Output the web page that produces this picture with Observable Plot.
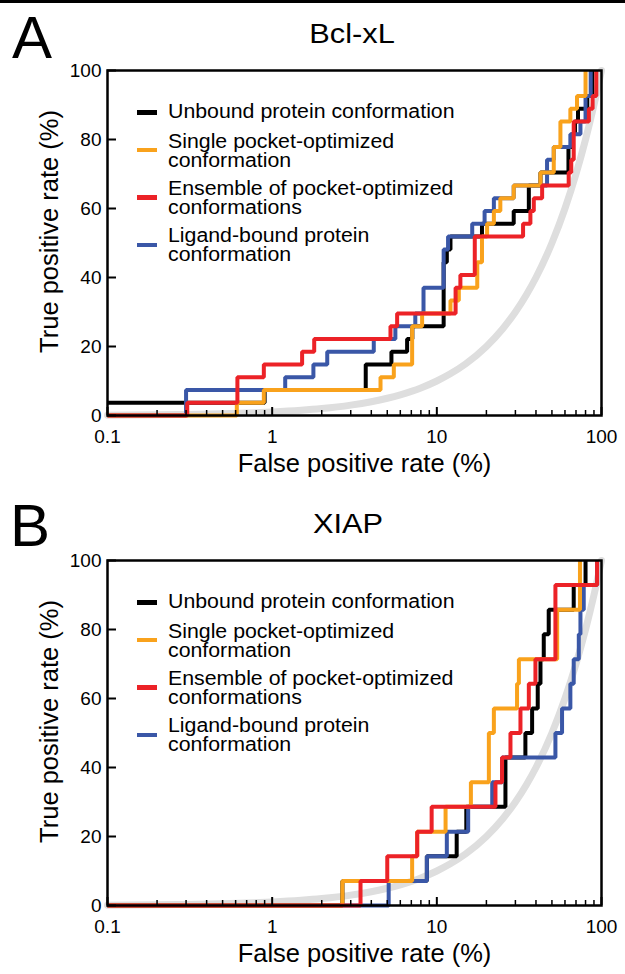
<!DOCTYPE html>
<html>
<head>
<meta charset="utf-8">
<script src="https://cdn.jsdelivr.net/npm/d3@7"></script>
<script src="https://cdn.jsdelivr.net/npm/@observablehq/plot@0.6"></script>
<style>
  body { margin: 0; background: #fff; }
  #page { position: relative; width: 625px; height: 974px; overflow: hidden;
          font-family: "Liberation Sans", Arial, Helvetica, sans-serif; color: #000; background: #fff; }
  #topbar { position: absolute; left: 0; top: 0; width: 625px; height: 3px; background: #000; }
  .panel { position: absolute; left: 0; width: 625px; }
  .panel svg { display: block; }
  .letter { position: absolute; font-size: 60px; line-height: 60px; }
  .title { position: absolute; width: 300px; text-align: center; font-size: 28.5px; line-height: 28.5px;
           transform: scaleX(1.08); transform-origin: center; white-space: nowrap; }
  .sw { position: absolute; left: 137px; width: 20px; height: 4.5px; }
  .lt { position: absolute; left: 168px; font-size: 20px; line-height: 18px; height: 18px; white-space: nowrap;
        transform: scaleX(1.065); transform-origin: left center; }
</style>
</head>
<body>
<div id="page"><div id="topbar"></div></div>
<script>
// ---------- categories / labels ----------
const panelLetters = ["A", "B"];
const panelTitles = ["Bcl-xL", "XIAP"];
const seriesNames = [
  ["Unbound protein conformation"],
  ["Single pocket-optimized", "conformation"],
  ["Ensemble of pocket-optimized", "conformations"],
  ["Ligand-bound protein", "conformation"]
];
const seriesColors = ["#000000", "#f9a21c", "#ec2227", "#3a57a7"];
const xTitle = "False positive rate (%)";
const yTitle = "True positive rate (%)";
const xMajorTicks = [0.1, 1, 10, 100];
const xMinorTicks = [0.2, 0.3, 0.4, 0.5, 0.6, 0.7, 0.8, 0.9, 2, 3, 4, 5, 6, 7, 8, 9, 20, 30, 40, 50, 60, 70, 80, 90];
const yTicks = [0, 20, 40, 60, 80, 100];

// ---------- random-selection reference curve ----------
const randomFPR = [0.1, 0.2, 0.3, 0.5, 0.7, 1, 1.5, 2, 3, 4, 5, 6, 7, 8, 10, 12, 15, 20, 25, 30, 35, 40, 50, 60, 70, 80, 90, 100];
const randomTPR = [0.1, 0.2, 0.3, 0.5, 0.7, 1, 1.5, 2, 3, 4, 5, 6, 7, 8, 10, 12, 15, 20, 25, 30, 35, 40, 50, 60, 70, 80, 90, 100];

// ---------- Panel A: Bcl-xL (step points: at FPR the curve rises to TPR) ----------
const bclUnboundFPR = [0.1, 0.9, 3.7, 5.3, 6.6, 7.1, 11.0, 11.5, 12.1, 18.8, 29.3, 36.2, 42.6, 63, 66, 69, 72, 82, 88];
const bclUnboundTPR = [3.7, 7.4, 14.8, 18.5, 22.2, 25.9, 44.4, 48.1, 51.9, 55.6, 59.3, 66.7, 70.4, 77.8, 81.5, 85.2, 88.9, 92.6, 100];

const bclSingleFPR = [0.1, 0.61, 0.89, 4.55, 5.48, 7.08, 8.14, 12.1, 13.6, 17.6, 18.8, 20.2, 22.2, 24.3, 29.3, 42.6, 51.3, 56.3, 64.7, 71, 80];
const bclSingleTPR = [0, 3.7, 7.4, 11.1, 14.8, 25.9, 29.6, 33.3, 37.0, 44.4, 51.9, 55.6, 59.3, 63.0, 66.7, 70.4, 77.8, 85.2, 88.9, 92.6, 100];

const bclEnsembleFPR = [0.1, 0.305, 0.615, 0.89, 1.52, 1.8, 5.23, 5.74, 13.0, 13.9, 17.0, 33.4, 37.0, 38.8, 43.6, 63.2, 65.5, 67.8, 83.8, 88.3, 93];
const bclEnsembleTPR = [0, 3.7, 11.1, 14.8, 18.5, 22.2, 25.9, 29.6, 37.0, 40.7, 51.9, 55.6, 59.3, 63.0, 66.7, 70.4, 74.1, 85.2, 88.9, 92.6, 100];

const bclLigandFPR = [0.1, 0.3, 1.2, 1.78, 2.16, 4.14, 5.6, 7.4, 8.3, 11.0, 11.7, 16.4, 19.5, 22.2, 29.3, 46.7, 51.3, 64.7, 74.5, 80, 86];
const bclLigandTPR = [0, 7.4, 11.1, 14.8, 18.5, 22.2, 25.9, 29.6, 37.0, 48.1, 51.9, 55.6, 59.3, 63.0, 66.7, 74.1, 77.8, 81.5, 85.2, 92.6, 100];

// ---------- Panel B: XIAP ----------
const xiapUnboundFPR = [0.1, 2.67, 8.7, 13.2, 15.1, 26.1, 34.5, 37.9, 41.0, 42.6, 44.6, 47.8, 67.8, 80];
const xiapUnboundTPR = [0, 7.1, 14.3, 21.4, 28.6, 42.9, 50.0, 57.1, 64.3, 71.4, 78.6, 85.7, 92.9, 100];

const xiapSingleFPR = [0.1, 2.67, 7.08, 7.6, 11.3, 16.1, 20.7, 22.2, 30.7, 31.5, 53.8, 74];
const xiapSingleTPR = [0, 7.1, 14.3, 21.4, 28.6, 35.7, 50.0, 57.1, 64.3, 71.4, 85.7, 100];

const xiapEnsembleFPR = [0.1, 3.44, 5.0, 7.6, 9.3, 22.7, 24.9, 28.0, 32.2, 36.2, 39.7, 52.5, 94];
const xiapEnsembleTPR = [0, 7.1, 14.3, 21.4, 28.6, 35.7, 42.9, 50.0, 57.1, 64.3, 71.4, 92.9, 100];

const xiapLigandFPR = [0.1, 5.1, 8.7, 11.5, 15.5, 21.7, 24.9, 52.5, 57.6, 64.7, 67.8, 72.8, 74.5, 78, 94];
const xiapLigandTPR = [0, 7.1, 14.3, 21.4, 28.6, 35.7, 42.9, 50.0, 57.1, 64.3, 71.4, 78.6, 85.7, 92.9, 100];

// ---------- build ----------
const toRows = (xs, ys) => xs.map((x, i) => ({fpr: x, tpr: ys[i]}));
const randomRows = toRows(randomFPR, randomTPR);

const panels = [
  {series: [toRows(bclUnboundFPR, bclUnboundTPR), toRows(bclSingleFPR, bclSingleTPR),
            toRows(bclEnsembleFPR, bclEnsembleTPR), toRows(bclLigandFPR, bclLigandTPR)], top: 0, h: 490},
  {series: [toRows(xiapUnboundFPR, xiapUnboundTPR), toRows(xiapSingleFPR, xiapSingleTPR),
            toRows(xiapEnsembleFPR, xiapEnsembleTPR), toRows(xiapLigandFPR, xiapLigandTPR)], top: 490, h: 484}
];

// drawing order: black, blue, orange, red
const drawOrder = [0, 3, 1, 2];

const page = document.getElementById("page");

panels.forEach((p, pi) => {
  const marks = [
    Plot.line(randomRows, {x: "fpr", y: "tpr", stroke: "#dedede", strokeWidth: 7, curve: "monotone-x"}),
    ...drawOrder.map(si => Plot.line(p.series[si], {
      x: "fpr", y: "tpr", stroke: seriesColors[si], strokeWidth: 4,
      curve: "step-after", strokeLinejoin: "miter", strokeLinecap: "butt"
    })),
    Plot.frame({stroke: "#000", strokeWidth: 2.5}),
    Plot.axisX(xMajorTicks, {tickSize: -8, tickPadding: 22, strokeWidth: 2, fontSize: 19,
      tickFormat: d => String(d), label: null}),
    Plot.axisX(xMinorTicks, {tickSize: -5, strokeWidth: 1.5, tickFormat: () => "", label: null}),
    Plot.axisY(yTicks, {tickSize: -9, tickPadding: 15, strokeWidth: 2, fontSize: 19, label: null}),
    Plot.text([xTitle], {text: d => d, frameAnchor: "bottom", dx: 10, dy: 48, fontSize: 25.5,
      textAnchor: "middle", lineAnchor: "middle"}),
    Plot.text([yTitle], {text: d => d, frameAnchor: "left", rotate: -90, dx: -57.5, dy: -11.5, fontSize: 25.5,
      textAnchor: "middle", lineAnchor: "middle"})
  ];
  const svg = Plot.plot({
    width: 625, height: p.h,
    marginTop: 70, marginBottom: p.h - 415, marginLeft: 107, marginRight: 24,
    x: {type: "log", domain: [0.1, 100]},
    y: {domain: [0, 100]},
    style: {fontFamily: '"Liberation Sans", Arial, Helvetica, sans-serif', fontSize: "19px", color: "#000", background: "transparent"},
    marks
  });
  const div = document.createElement("div");
  div.className = "panel";
  div.style.top = p.top + "px";
  div.style.height = p.h + "px";
  div.appendChild(svg);

  // panel letter
  const L = document.createElement("div");
  L.className = "letter";
  L.textContent = panelLetters[pi];
  L.style.left = (pi === 0 ? 12 : 10) + "px";
  L.style.top = (pi === 0 ? 7.7 : 5.9) + "px";
  div.appendChild(L);

  // panel title
  const T = document.createElement("div");
  T.className = "title";
  T.textContent = panelTitles[pi];
  const cx = pi === 0 ? 351.5 : 347.5;
  T.style.left = (cx - 150) + "px";
  T.style.top = (43.3 - 14.25 - 0.3465 * 28.5) + "px";
  div.appendChild(T);

  // legend
  const swCenters = [112.3, 150, 197.3, 245];
  const firstBaselines = [118.3, 148.3, 195, 242.3];
  const lineGap = 18.7;
  seriesNames.forEach((lines, si) => {
    const sw = document.createElement("div");
    sw.className = "sw";
    sw.style.background = seriesColors[si];
    sw.style.top = (swCenters[si] - 2.25) + "px";
    div.appendChild(sw);
    lines.forEach((line, li) => {
      const t = document.createElement("div");
      t.className = "lt";
      // baseline = top + 9 + 0.3465*20
      t.style.top = (firstBaselines[si] + li * lineGap - 9 - 6.93) + "px";
      t.textContent = line;
      div.appendChild(t);
    });
  });

  page.appendChild(div);
});
</script>
</body>
</html>
